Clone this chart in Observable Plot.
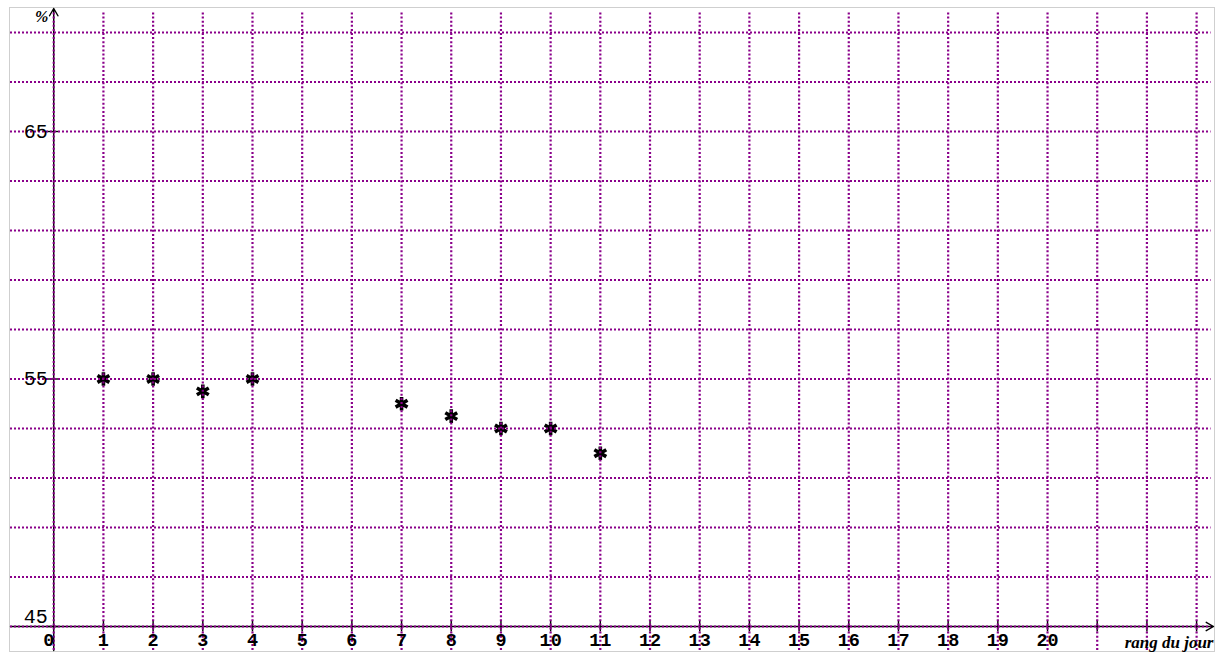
<!DOCTYPE html>
<html><head><meta charset="utf-8">
<script src="https://cdn.jsdelivr.net/npm/d3@7"></script>
<script src="https://cdn.jsdelivr.net/npm/@observablehq/plot@0.6"></script>
<style>body{margin:0;background:#fff}</style>
</head><body><div id="chart"></div>
<script>
const days = [1, 2, 3, 4, 7, 8, 9, 10, 11];
const values = [55, 55, 54.5, 55, 54, 53.5, 53, 53, 52];
const xTickLabels = d3.range(1, 21);
const xTicks = d3.range(1, 24);
const yTickLabels = [55, 65];
const yTickLabelBottom = [45];
const yTicks = [45, 55, 65];
const xGrid = d3.range(0, 24);
const yGrid = d3.range(45, 70, 2);
const xDomain = [-0.87, 23.34];
const yDomain = [44.03, 69.97];

const points = days.map((d, i) => ({day: d, pct: values[i]}));
const purple = "#8a008a";
const mono = "'Liberation Mono', 'DejaVu Sans Mono', monospace";

const plot = Plot.plot({
  width: 1219, height: 653,
  marginLeft: 10, marginRight: 6, marginTop: 8, marginBottom: 3,
  x: {domain: xDomain, axis: null},
  y: {domain: yDomain, axis: null},
  marks: [
    Plot.frame({stroke: "#cfcfcf", inset: -1}),
    // axes
    Plot.arrow([0], {x1: xDomain[0], x2: xDomain[1], y1: 45, y2: 45, stroke: "black", strokeWidth: 1.4, headLength: 9, bend: 0}),
    Plot.arrow([0], {x1: 0, x2: 0, y1: yDomain[0], y2: yDomain[1], stroke: "black", strokeWidth: 1.4, headLength: 9, bend: 0}),
    Plot.ruleX(xTicks, {x: d => d, y1: 44.78, y2: 45.22, stroke: "black", strokeWidth: 1.4}),
    Plot.ruleY(yTicks, {y: d => d, x1: -0.12, x2: 0.1, stroke: "black", strokeWidth: 1.4}),
    // points
    Plot.dot(points, {x: "day", y: "pct", symbol: "asterisk", r: 6.5, stroke: "black", strokeWidth: 3.6}),
    // grid (drawn over)
    Plot.ruleY(yGrid, {y: d => d, x1: xDomain[0], x2: xDomain[1] - 0.05, stroke: purple, strokeWidth: 2.2, strokeDasharray: "2,2"}),
    Plot.ruleX(xGrid, {x: d => d, y1: yDomain[0], y2: 69.8, stroke: purple, strokeWidth: 2.2, strokeDasharray: "2,2.1"}),
    // labels
    Plot.text(xTickLabels, {x: d => d, y: 45, text: d => String(d), dy: 14,
      fontFamily: mono, fontSize: 18.5, fontWeight: "bold", fill: "black"}),
    Plot.text([0], {x: d => d, y: 45, text: d => String(d), dy: 14, dx: -5,
      fontFamily: mono, fontSize: 18.5, fontWeight: "bold", fill: "black"}),
    Plot.text(yTickLabels, {x: 0, y: d => d, text: d => String(d), dx: -6, textAnchor: "end",
      fontFamily: mono, fontSize: 20, fill: "black"}),
    Plot.text(yTickLabelBottom, {x: 0, y: d => d, text: d => String(d), dx: -6, dy: -10, textAnchor: "end",
      fontFamily: mono, fontSize: 20, fill: "black"}),
    Plot.text(["%"], {x: 0, y: yDomain[1], text: d => d, dx: -12, dy: 8, fontFamily: "'Liberation Serif', serif",
      fontStyle: "italic", fontWeight: "bold", fontSize: 16, fill: "black"}),
    Plot.text(["rang du jour"], {x: xDomain[1], y: 45, text: d => d, dy: 16, textAnchor: "end",
      fontFamily: "'Liberation Serif', serif", fontStyle: "italic", fontWeight: "bold", fontSize: 17, fill: "black"})
  ]
});
document.getElementById("chart").append(plot);
</script>
</body></html>
